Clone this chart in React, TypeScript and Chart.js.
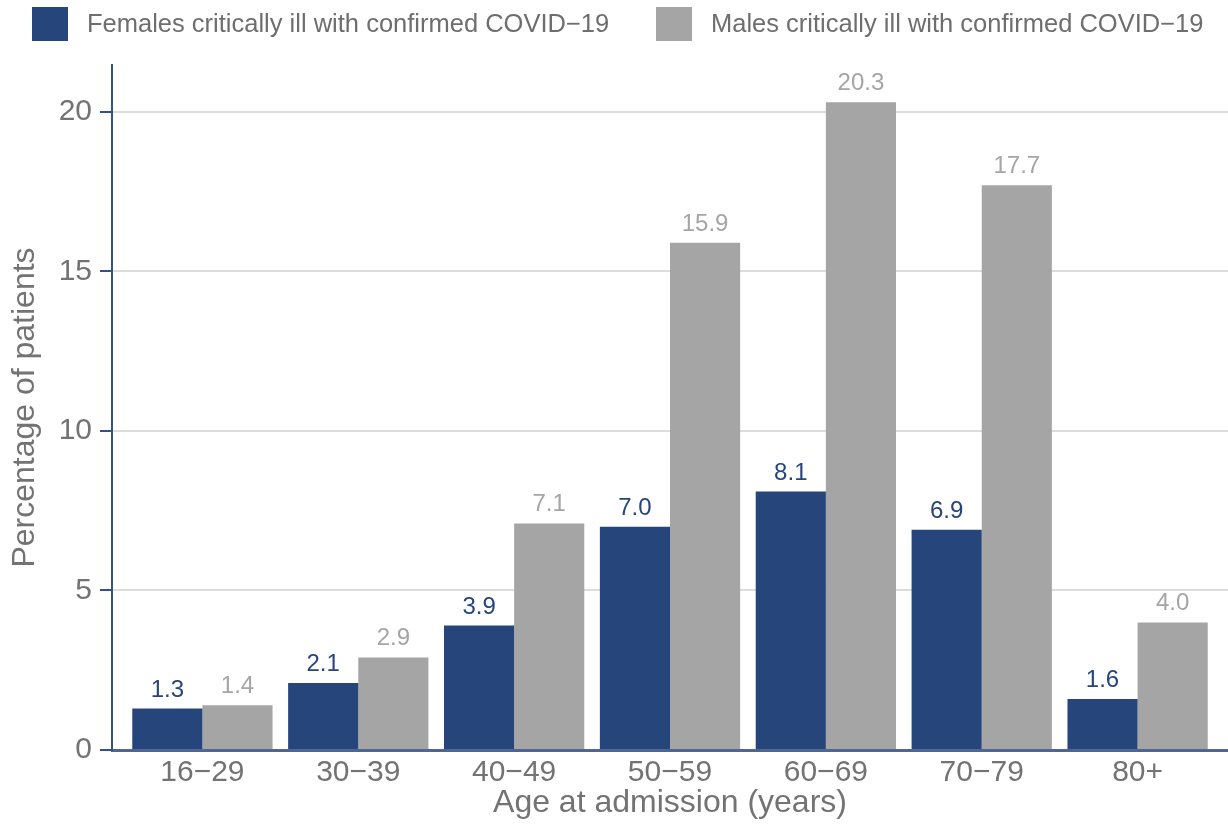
import React, { useEffect, useRef } from "react";
import { Chart, registerables } from "chart.js";

Chart.register(...registerables);

const categories = ["16\u221229", "30\u221239", "40\u221249", "50\u221259", "60\u221269", "70\u221279", "80+"];
const females = [1.3, 2.1, 3.9, 7.0, 8.1, 6.9, 1.6];
const males = [1.4, 2.9, 7.1, 15.9, 20.3, 17.7, 4.0];
const seriesNames = [
  "Females critically ill with confirmed COVID\u221219",
  "Males critically ill with confirmed COVID\u221219",
];
const yTicks = [0, 5, 10, 15, 20];

const FONT = "'Liberation Sans', Arial, sans-serif";
const BLUE = "#26457a";
const GREY = "#a5a5a5";
const TEXT = "#737373";

const labelPlugin = {
  id: "barLabels",
  afterDatasetsDraw(chart: any) {
    const ctx = chart.ctx;
    ctx.save();
    ctx.font = `24px ${FONT}`;
    ctx.textAlign = "center";
    ctx.textBaseline = "alphabetic";
    chart.data.datasets.forEach((ds: any, di: number) => {
      const meta = chart.getDatasetMeta(di);
      ctx.fillStyle = di === 0 ? BLUE : GREY;
      meta.data.forEach((el: any, i: number) => {
        const v = ds.data[i].y;
        ctx.fillText(v.toFixed(1), el.x, el.y - 12);
      });
    });
    ctx.restore();
  },
};

const legendPlugin = {
  id: "customLegend",
  afterDraw(chart: any) {
    const ctx = chart.ctx;
    ctx.save();
    const items = [
      { x: 32, color: BLUE, text: seriesNames[0] },
      { x: 656, color: GREY, text: seriesNames[1] },
    ];
    ctx.font = `25.5px ${FONT}`;
    ctx.textBaseline = "middle";
    ctx.textAlign = "left";
    items.forEach((it) => {
      ctx.fillStyle = it.color;
      ctx.fillRect(it.x, 7, 36, 34);
      ctx.fillStyle = "#6e6e6e";
      ctx.fillText(it.text, it.x + 55, 25);
    });
    ctx.restore();
  },
};

export default function App() {
  const ref = useRef<HTMLCanvasElement>(null);
  useEffect(() => {
    if (!ref.current) return;
    Chart.defaults.font.family = FONT;
    const chart = new Chart(ref.current, {
      type: "bar",
      data: {
        datasets: [
          {
            label: seriesNames[0],
            data: females.map((v, i) => ({ x: i, y: v })),
            backgroundColor: BLUE,
            categoryPercentage: 0.9,
            barPercentage: 1,
          },
          {
            label: seriesNames[1],
            data: males.map((v, i) => ({ x: i, y: v })),
            backgroundColor: GREY,
            categoryPercentage: 0.9,
            barPercentage: 1,
          },
        ],
      },
      options: {
        animation: false,
        responsive: false,
        layout: { padding: { top: 65, right: 0, left: 0, bottom: 0 } },
        plugins: {
          legend: { display: false },
          tooltip: { enabled: false },
        },
        scales: {
          x: {
            type: "linear",
            min: -0.58,
            max: 6.58,
            offset: false,
            afterBuildTicks: (s: any) => {
              s.ticks = categories.map((_, i) => ({ value: i }));
            },
            afterFit: (s: any) => {
              s.height = 80;
            },
            grid: { display: false, drawTicks: false },
            border: { display: true, color: "#4d6696", width: 3 },
            ticks: {
              color: TEXT,
              font: { size: 30 },
              padding: 5,
              autoSkip: false,
              maxRotation: 0,
              callback: (v: any) => categories[v] ?? "",
            },
            title: {
              display: true,
              text: "Age at admission (years)",
              color: TEXT,
              font: { size: 32 },
              padding: { top: 0, bottom: 8 },
            },
          },
          y: {
            min: 0,
            max: 21.47,
            afterBuildTicks: (s: any) => {
              s.ticks = yTicks.map((v) => ({ value: v }));
            },
            afterFit: (s: any) => {
              s.width = 112;
            },
            grid: {
              color: (c: any) => (c.tick && c.tick.value === 0 ? "rgba(0,0,0,0)" : "#dcdcdc"),
              lineWidth: 2,
              tickColor: "#34508a",
              tickLength: 12,
              drawTicks: true,
            },
            border: { display: true, color: "#34508a", width: 2 },
            ticks: {
              color: TEXT,
              font: { size: 30 },
              padding: 8,
            },
            title: {
              display: true,
              text: "Percentage of patients",
              color: TEXT,
              font: { size: 32 },
              padding: { top: 6, bottom: 0 },
            },
          },
        },
      },
      plugins: [labelPlugin, legendPlugin],
    } as any);
    return () => chart.destroy();
  }, []);
  return (
    <div style={{ position: "fixed", left: 0, top: 0, width: 1228, height: 830, background: "#fff" }}>
      <canvas ref={ref} width={1228} height={830} style={{ display: "block" }} />
    </div>
  );
}
